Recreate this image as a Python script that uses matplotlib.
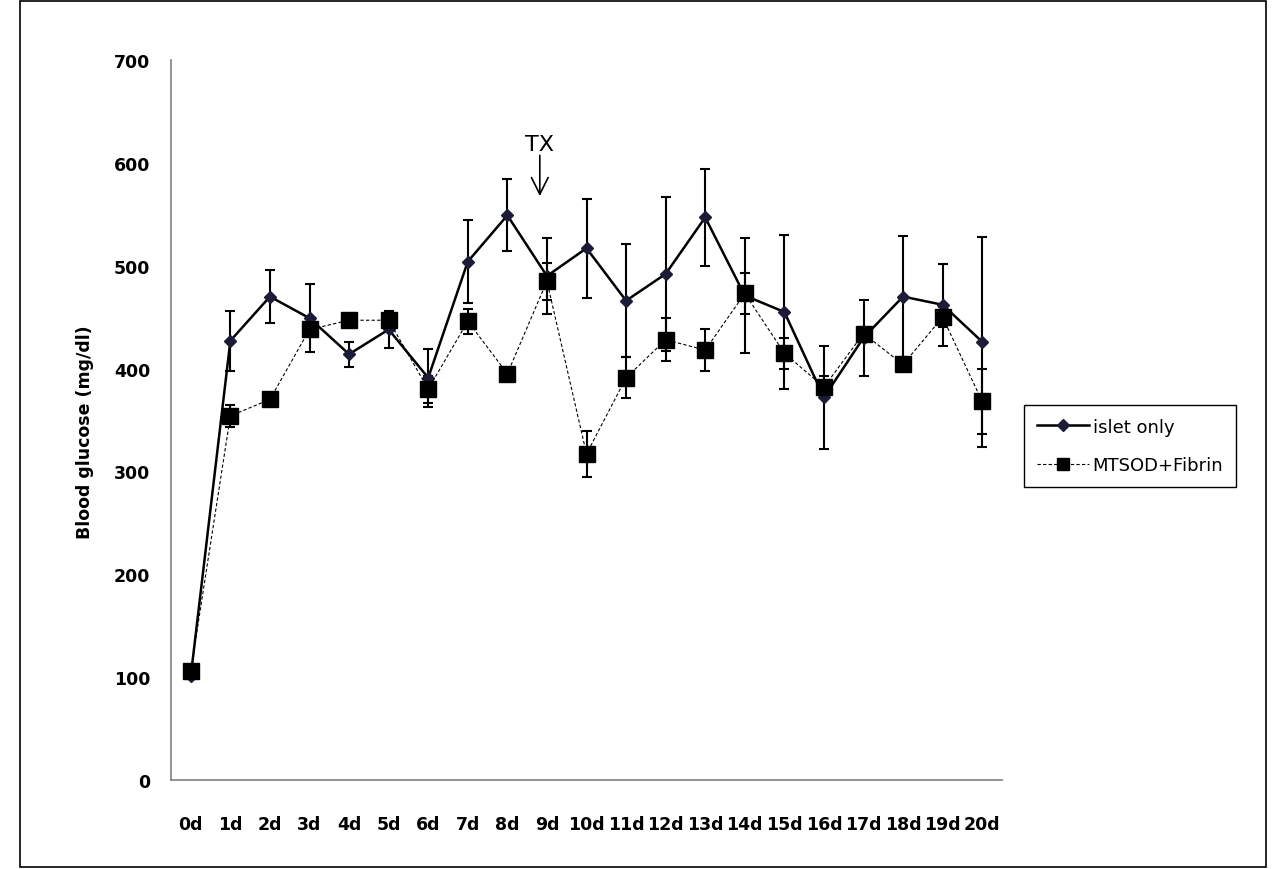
import matplotlib
matplotlib.use("Agg")
import matplotlib.pyplot as plt
from matplotlib.lines import Line2D
from matplotlib.patches import Rectangle

days = [f"{i}d" for i in range(21)]

islet = [101, 427, 470, 449, 414, 438, 391, 504, 549, 490, 517,
         466, 492, 547, 471, 455, 372, 430, 470, 462, 426]
islet_err = [3, 29, 26, 33, 12, 18, 28, 40, 35, 37, 48,
             55, 75, 47, 56, 75, 50, 37, 59, 40, 102]

mtsod = [106, 354, 370, 438, 447, 447, 380, 446, 395, 485, 317,
         391, 428, 418, 473, 415, 382, 434, 404, 450, 368]
mtsod_err = [3, 11, 4, 5, 5, 5, 13, 12, 5, 18, 22,
             20, 21, 20, 20, 15, 11, 5, 5, 10, 32]

plt.rcParams["font.family"] = "DejaVu Sans"

fig = plt.figure(figsize=(12.86, 8.70), dpi=100)
ax = fig.add_axes([171 / 1286, 89 / 870, 831 / 1286, 720 / 870])

x = list(range(len(days)))

# error bars first, then lines and markers on top
ax.errorbar(x, islet, yerr=islet_err, fmt="none", ecolor="black",
            elinewidth=1.5, capsize=3.5, capthick=1.5, zorder=2)
ax.errorbar(x, mtsod, yerr=mtsod_err, fmt="none", ecolor="black",
            elinewidth=1.5, capsize=3.5, capthick=1.5, zorder=2)
ax.plot(x, islet, color="black", lw=1.8, marker="D", markersize=6,
        markerfacecolor="#1c1c38", markeredgecolor="#1c1c38", zorder=3)
ax.plot(x, mtsod, color="black", lw=0.8, linestyle=(0, (3, 2)),
        marker="s", markersize=12, markerfacecolor="black",
        markeredgecolor="black", zorder=4)

ax.set_xlim(-0.5, 20.5)
ax.set_ylim(0, 700)
ax.set_yticks(range(0, 701, 100))
ax.set_xticks(x)
ax.set_xticklabels(days)
ax.tick_params(length=0, labelsize=12.5)
ax.tick_params(axis="x", pad=25)
ax.tick_params(axis="y", pad=15)
for lab in ax.get_xticklabels() + ax.get_yticklabels():
    lab.set_fontweight("bold")

for s in ["top", "right"]:
    ax.spines[s].set_visible(False)
for s in ["left", "bottom"]:
    ax.spines[s].set_color("#808080")
    ax.spines[s].set_linewidth(1.2)

fig.text(85 / 1286, 1 - 432 / 870, "Blood glucose (mg/dl)", rotation=90,
         ha="center", va="center", fontsize=12.5, fontweight="bold")

# transplant marker
ax.annotate("", xy=(8.82, 565), xytext=(8.82, 610),
            arrowprops=dict(arrowstyle="->,head_length=0.6,head_width=0.3",
                            lw=1.2, color="black", mutation_scale=20))
ax.text(8.82, 618, "TX", ha="center", va="center", fontsize=16)

handles = [
    Line2D([], [], color="black", lw=1.8, marker="D", markersize=6,
           markerfacecolor="#1c1c38", markeredgecolor="#1c1c38"),
    Line2D([], [], color="black", lw=0.8, linestyle=(0, (3, 2)),
           marker="s", markersize=9, markerfacecolor="black"),
]
leg = fig.legend(handles, ["islet only", "MTSOD+Fibrin"],
                 loc="upper left", bbox_to_anchor=(1024 / 1286, 1 - 406 / 870),
                 borderaxespad=0, fontsize=13, handlelength=2.9,
                 handletextpad=0.2, labelspacing=1.15, borderpad=0.7,
                 fancybox=False, edgecolor="black", framealpha=1)
leg.get_frame().set_linewidth(1.0)

fig.patches.append(Rectangle((20 / 1286, 2 / 870), 1246 / 1286, 866 / 870,
                             transform=fig.transFigure, fill=False,
                             edgecolor="black", lw=1.2))

fig.savefig("out.png", dpi=100)
